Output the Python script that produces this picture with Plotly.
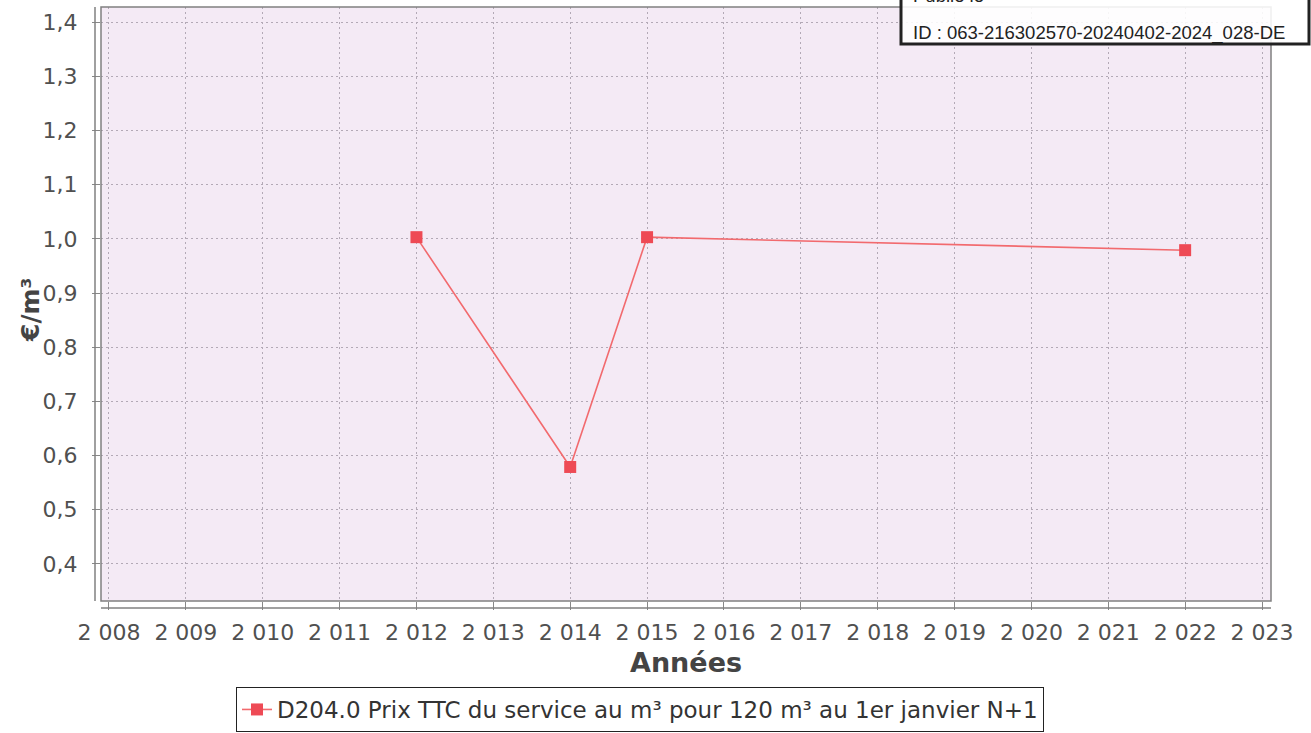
import plotly.graph_objects as go

years = [2012, 2014, 2015, 2022]
prix = [1.003, 0.579, 1.003, 0.979]
series_name = "D204.0 Prix TTC du service au m³ pour 120 m³ au 1er janvier N+1"
x_title = "Années"
y_title = "€/m³"
stamp_lines = ["Publié le", "ID : 063-216302570-20240402-2024_028-DE"]

W, H = 1311, 733
L, R, T, B = 101, 1271, 7, 601
pw, ph = R - L, B - T

def px(x):
    return (x - L) / pw

def py(y):
    return (B - y) / ph

fig = go.Figure()
fig.add_trace(go.Scatter(
    x=years, y=prix, mode="lines+markers", name=series_name,
    line=dict(color="#F26A6E", width=1.6),
    marker=dict(symbol="square", size=12, color="#EE4A55"),
))

grid = "#B3A9B6"
font_tick = dict(family="DejaVu Sans", size=22, color="#505050")
fig.update_layout(
    width=W, height=H,
    margin=dict(l=L, r=W - R, t=T, b=H - B, pad=0, autoexpand=False),
    paper_bgcolor="white", plot_bgcolor="#F4EAF5",
    separators=", ",
    showlegend=True,
    legend=dict(
        x=px(640), y=(H - 687) / H, xref="paper", yref="container",
        xanchor="center", yanchor="top",
        orientation="h", bordercolor="#222222", borderwidth=1,
        bgcolor="white", font=dict(family="DejaVu Sans", size=23, color="#333333"),
        itemwidth=30,
    ),
    xaxis=dict(
        range=[2007.896, 2023.117], dtick=1, tick0=2008, tickformat=",d",
        showgrid=True, gridcolor=grid, griddash="2px,3px", gridwidth=1,
        zeroline=False, showline=False,
        ticks="outside", ticklen=8, tickcolor="#888888",
        tickfont=font_tick, ticklabelstandoff=4,
    ),
    yaxis=dict(
        range=[0.3317, 1.4277], dtick=0.1, tick0=0.4, tickformat=".1f",
        showgrid=True, gridcolor=grid, griddash="2px,3px", gridwidth=1,
        zeroline=False, showline=False,
        ticks="outside", ticklen=8, tickcolor="#888888",
        tickfont=font_tick, ticklabelstandoff=10,
    ),
)

shapes = []
# plot frame
shapes.append(dict(type="rect", xref="paper", yref="paper", x0=0, x1=1, y0=0, y1=1,
                   line=dict(color="#808080", width=1.5), fillcolor="rgba(0,0,0,0)", layer="above"))
# offset axis lines
shapes.append(dict(type="line", xref="paper", yref="paper", x0=px(95), x1=px(95), y0=0, y1=1,
                   line=dict(color="#808080", width=1.5)))
shapes.append(dict(type="line", xref="paper", yref="paper", x0=0, x1=1, y0=py(608), y1=py(608),
                   line=dict(color="#808080", width=1.5)))
# stamp box
shapes.append(dict(type="rect", xref="paper", yref="paper", x0=px(901), x1=px(1309),
                   y0=py(44), y1=py(-10), line=dict(color="#222222", width=3),
                   fillcolor="rgba(255,255,255,0.88)", layer="above"))
fig.update_layout(shapes=shapes)

fig.add_annotation(text=stamp_lines[0], xref="paper", yref="paper", x=px(911), y=py(-5),
                   xanchor="left", yanchor="middle", showarrow=False,
                   font=dict(family="Liberation Sans", size=18.5, color="#222222"))
fig.add_annotation(text=stamp_lines[1], xref="paper", yref="paper", x=px(911), y=py(33),
                   xanchor="left", yanchor="middle", showarrow=False,
                   font=dict(family="Liberation Sans", size=18.5, color="#222222"))
fig.add_annotation(text="<b>" + x_title + "</b>", xref="paper", yref="paper", x=px(686), y=py(662),
                   xanchor="center", yanchor="middle", showarrow=False,
                   font=dict(family="DejaVu Sans", size=27, color="#444444"))
fig.add_annotation(text="<b>" + y_title + "</b>", xref="paper", yref="paper", x=px(30), y=py(310),
                   xanchor="center", yanchor="middle", showarrow=False, textangle=-90,
                   font=dict(family="DejaVu Sans", size=25, color="#444444"))

fig.write_html("out.html", config={"displayModeBar": False},
               post_script="document.body.style.margin='0';document.body.style.overflow='hidden';")
